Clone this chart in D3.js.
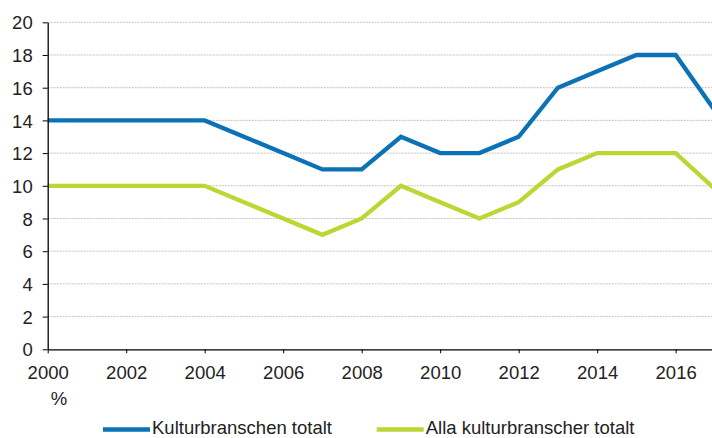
<!DOCTYPE html>
<html>
<head>
<meta charset="utf-8">
<script src="https://cdn.jsdelivr.net/npm/d3@7"></script>
<style>
  body { margin: 0; background: #fff; }
  svg { display: block; font-family: "Liberation Sans", Arial, sans-serif; }
  .tick text { fill: #222; font-size: 18.5px; }
  .grid line { stroke: #c4c4c4; stroke-dasharray: 2,1; }
</style>
</head>
<body>
<div id="chart"></div>
<script>
// DATA
var years      = [2000, 2001, 2002, 2003, 2004, 2005, 2006, 2007, 2008, 2009, 2010, 2011, 2012, 2013, 2014, 2015, 2016, 2017]
var kultur     = [14, 14, 14, 14, 14, 13, 12, 11, 11, 13, 12, 12, 13, 16, 17, 18, 18, 14.6]
var alla       = [10, 10, 10, 10, 10, 9, 8, 7, 8, 10, 9, 8, 9, 11, 12, 12, 12, 9.8]
var seriesNames = ["Kulturbranschen totalt", "Alla kulturbranscher totalt"]
var yTicks     = [0, 2, 4, 6, 8, 10, 12, 14, 16, 18, 20]
var xTicks     = [2000, 2002, 2004, 2006, 2008, 2010, 2012, 2014, 2016]

var COLORS = ["#0b72b5", "#bdd633"]

var W = 712, H = 438
var PLOT = { LEFT: 47.7, RIGHT: 714.9, TOP: 22.3, BOTTOM: 349.3 }

const svg = d3.select("#chart").append("svg")
  .attr("width", W)
  .attr("height", H)

// SCALES
const x = d3.scaleLinear().domain([2000, 2017]).range([PLOT.LEFT, PLOT.RIGHT])
const y = d3.scaleLinear().domain([0, 20]).range([PLOT.BOTTOM, PLOT.TOP])

// GRID
svg.append("g").attr("class", "grid")
  .selectAll("line").data(yTicks.filter(d => d > 0)).join("line")
  .attr("x1", PLOT.LEFT).attr("x2", W)
  .attr("y1", d => y(d)).attr("y2", d => y(d))

// LINES
const line = d3.line()
  .x((d, i) => x(years[i]))
  .y(d => y(d))

;[kultur, alla].forEach((s, k) => {
  svg.append("path")
    .attr("d", line(s))
    .attr("fill", "none")
    .attr("stroke", COLORS[k])
    .attr("stroke-width", 4.3)
    .attr("stroke-linejoin", "miter")
})

// AXES
const gx = svg.append("g")
  .attr("transform", `translate(0, ${PLOT.BOTTOM})`)
  .call(d3.axisBottom(x).tickValues(xTicks).tickFormat(d3.format("d")).tickSizeOuter(0).tickSizeInner(4).tickPadding(13))
gx.select(".domain").attr("stroke", "#000").attr("stroke-width", 1.3)
gx.selectAll(".tick line").attr("stroke", "#000")

const gy = svg.append("g")
  .attr("transform", `translate(${PLOT.LEFT}, 0)`)
  .call(d3.axisLeft(y).tickValues(yTicks).tickSizeOuter(0).tickSizeInner(5).tickPadding(10))
gy.select(".domain").attr("stroke", "#000").attr("stroke-width", 1.3)
gy.selectAll(".tick line").attr("stroke", "#000")
gy.selectAll(".tick text").attr("dy", "0.36em")

// UNIT
svg.append("text")
  .attr("x", 59).attr("y", 405)
  .attr("text-anchor", "middle")
  .attr("font-size", 18.5)
  .attr("fill", "#222")
  .text("%")

// LEGEND
const legendX = [103, 376.7]
const legend = svg.selectAll(".legend").data(seriesNames).join("g")
  .attr("class", "legend")
  .attr("transform", (d, i) => `translate(${legendX[i]}, 429.5)`)
legend.append("line")
  .attr("x1", 0).attr("x2", 47)
  .attr("stroke", (d, i) => COLORS[i])
  .attr("stroke-width", 4.3)
legend.append("text")
  .attr("x", 49).attr("y", 4.5)
  .attr("font-size", 18.5)
  .attr("fill", "#222")
  .text(d => d)
</script>
</body>
</html>
